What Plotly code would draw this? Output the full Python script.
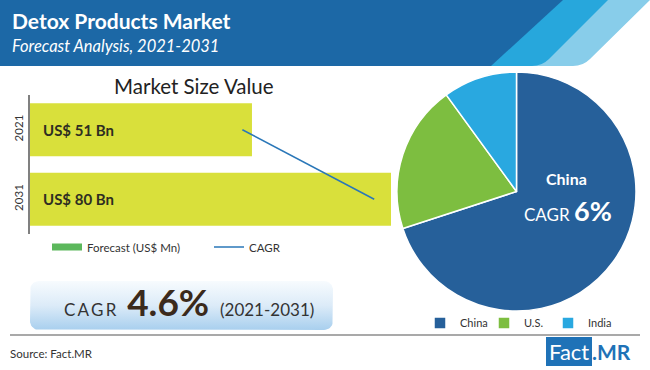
import numpy as np
import plotly.graph_objects as go

# ---------------- data ----------------
years = ["2021", "2031"]
market_size = [51, 80]                      # US$ Bn
bar_labels = ["US$ 51 Bn", "US$ 80 Bn"]
cagr_line_x = [49, 76.5]                    # CAGR trend line drawn across the bars
regions = ["China", "U.S.", "India"]
region_share = [70, 20, 10]
cagr_overall = "4.6%"
cagr_period = "(2021-2031)"
china_cagr = "6%"

# ---------------- helpers ----------------
W, H = 650, 370
FONT = "Lato"


def px(x):
    return x / W


def py(y):
    return 1 - y / H


def path(cmds):
    out = []
    for c in cmds:
        if c[0] == "Z":
            out.append("Z")
        elif c[0] == "Q":
            out.append(f"Q{px(c[1])},{py(c[2])} {px(c[3])},{py(c[4])}")
        else:
            out.append(f"{c[0]}{px(c[1])},{py(c[2])}")
    return " ".join(out)


fig = go.Figure()

# bars
fig.add_trace(go.Bar(
    y=years, x=market_size, orientation="h",
    marker=dict(color="#d9e03b", line_width=0),
    showlegend=False, hoverinfo="x+y", xaxis="x", yaxis="y"))
# legend entry for forecast
fig.add_trace(go.Scatter(
    x=[None], y=[None], mode="lines", name="Forecast (US$ Mn)",
    line=dict(color="#5cb85c", width=7), legend="legend",
    xaxis="x", yaxis="y"))
# CAGR line
fig.add_trace(go.Scatter(
    x=cagr_line_x, y=years, mode="lines", name="CAGR",
    line=dict(color="#2a77b8", width=1.5), legend="legend",
    xaxis="x", yaxis="y", hoverinfo="skip"))

# pie
fig.add_trace(go.Pie(
    labels=regions, values=region_share, sort=False,
    direction="clockwise", rotation=0,
    marker=dict(colors=["#26609a", "#7dbe40", "#29a8e0"],
                line=dict(color="white", width=1.5)),
    textinfo="none", hoverinfo="label+percent",
    domain=dict(x=[px(397), px(636)], y=[py(311), py(72)]),
    legend="legend2"))

# gradient CAGR box (rounded rectangle) on a pixel-space overlay axis
x0, x1, y0, y1, r = 30, 333, 281, 330, 9
bx, by = [], []
for cx, cy, a0 in [(x1 - r, y0 + r, -90), (x1 - r, y1 - r, 0),
                   (x0 + r, y1 - r, 90), (x0 + r, y0 + r, 180)]:
    for a in np.linspace(a0, a0 + 90, 10):
        bx.append(cx + r * np.cos(np.radians(a)))
        by.append(cy + r * np.sin(np.radians(a)))
bx.append(bx[0])
by.append(by[0])
fig.add_trace(go.Scatter(
    x=bx, y=by, mode="lines", fill="toself",
    line=dict(width=0, color="rgba(0,0,0,0)"),
    fillgradient=dict(type="vertical", start=y0, stop=y1,
                      colorscale=[[0, "#f7fbfe"], [0.5, "#dcebf8"], [1, "#a8cfee"]]),
    xaxis="x3", yaxis="y3", showlegend=False, hoverinfo="skip"))

# ---------------- shapes ----------------
shapes = [
    dict(type="path", xref="paper", yref="paper", layer="below", line_width=0,
         fillcolor="#88cdea",
         path=path([("M", 0, 0), ("L", 650, 0), ("L", 590, 59),
                    ("Q", 583, 66, 573, 66), ("L", 0, 66), ("Z",)])),
    dict(type="path", xref="paper", yref="paper", layer="below", line_width=0,
         fillcolor="#27a7dc",
         path=path([("M", 0, 0), ("L", 608, 0), ("L", 549, 59),
                    ("Q", 542, 66, 532, 66), ("L", 0, 66), ("Z",)])),
    dict(type="path", xref="paper", yref="paper", layer="below", line_width=0,
         fillcolor="#1c68a6",
         path=path([("M", 0, 0), ("L", 563, 0), ("L", 491, 66),
                    ("L", 0, 66), ("Z",)])),
    dict(type="line", xref="paper", yref="paper", x0=px(10), x1=px(640),
         y0=py(335), y1=py(335), line=dict(color="#a9a9a9", width=2)),
    dict(type="rect", xref="paper", yref="paper", x0=px(546), x1=px(592),
         y0=py(366), y1=py(337), line_width=0, fillcolor="#1f72b7"),
]

# ---------------- annotations ----------------
ann = [
    dict(x=px(10), y=py(20), text="<b>Detox Products Market</b>",
         font=dict(size=21, color="white")),
    dict(x=px(10), y=py(46), text="<i>Forecast Analysis, 2021-2031</i>",
         font=dict(size=16.5, color="white")),
    dict(x=px(194), y=py(86), text="Market Size Value", xanchor="center",
         font=dict(size=20.5, color="#222222")),
    dict(x=px(62), y=py(301),
         text=("C\u2009A\u2009G\u2009R\u00a0\u00a0\u2009"
               f"<b><span style='font-size:37px;color:#3b2a1c'>{cagr_overall}</span></b>"
               f"\u00a0\u00a0\u2009{cagr_period}"),
         font=dict(size=17, color="#333333")),
    dict(x=px(566), y=py(178), text="<b>China</b>", xanchor="center",
         font=dict(size=16, color="white")),
    dict(x=px(568), y=py(211), xanchor="center",
         text=f"CAGR\u00a0<b><span style='font-size:27px'>{china_cagr}</span></b>",
         font=dict(size=17, color="white")),
    dict(x=px(8), y=py(353), text="Source: Fact.MR",
         font=dict(size=11.5, color="#333333")),
    dict(x=px(569), y=py(351), text="Fact", xanchor="center",
         font=dict(size=22, color="white")),
    dict(x=px(590), y=py(351), text="<b>.MR</b>",
         font=dict(size=21, color="#1f72b7")),
]
for a in ann:
    a.setdefault("xref", "paper")
    a.setdefault("yref", "paper")
    a.setdefault("xanchor", "left")
    a.setdefault("yanchor", "middle")
    a["showarrow"] = False

for i, lab in enumerate(bar_labels):
    ann.append(dict(xref="x", yref="y", x=4.7, y=i, text=f"<b>{lab}</b>",
                    xanchor="left", yanchor="middle", xshift=11,
                    showarrow=False, font=dict(size=15, color="#2e2e22")))

fig.update_layout(
    width=W, height=H,
    margin=dict(l=0, r=0, t=0, b=0),
    paper_bgcolor="white", plot_bgcolor="rgba(0,0,0,0)",
    font=dict(family=FONT, color="#333333"),
    bargap=0.24,
    xaxis=dict(domain=[px(30), px(391)], range=[4.7, 80], visible=False,
               anchor="y", fixedrange=True),
    yaxis=dict(type="category", domain=[py(234), py(95)],
               categoryorder="array", categoryarray=years,
               range=[1.5, -0.5], autorange=False, anchor="x",
               showline=True, linecolor="#808080", linewidth=2,
               ticks="", showgrid=False, zeroline=False, tickangle=-90,
               tickfont=dict(size=11.5, color="#333333"), fixedrange=True),
    xaxis3=dict(domain=[0, 1], range=[0, W], visible=False, anchor="y3",
                fixedrange=True),
    yaxis3=dict(domain=[0, 1], range=[H, 0], visible=False, anchor="x3",
                fixedrange=True),
    legend=dict(orientation="h", x=px(47), y=py(247), xanchor="left",
                yanchor="middle", font=dict(size=11.5, color="#333333"),
                bgcolor="rgba(0,0,0,0)", entrywidth=117),
    legend2=dict(orientation="h", x=px(420), y=py(323), xanchor="left",
                 yanchor="middle", font=dict(size=11, color="#333333"),
                 bgcolor="rgba(0,0,0,0)", itemwidth=30, entrywidth=19),
    shapes=shapes,
    annotations=ann,
)

fig.write_html("out.html", config={"displayModeBar": False},
               post_script="document.body.style.margin='0px';")
